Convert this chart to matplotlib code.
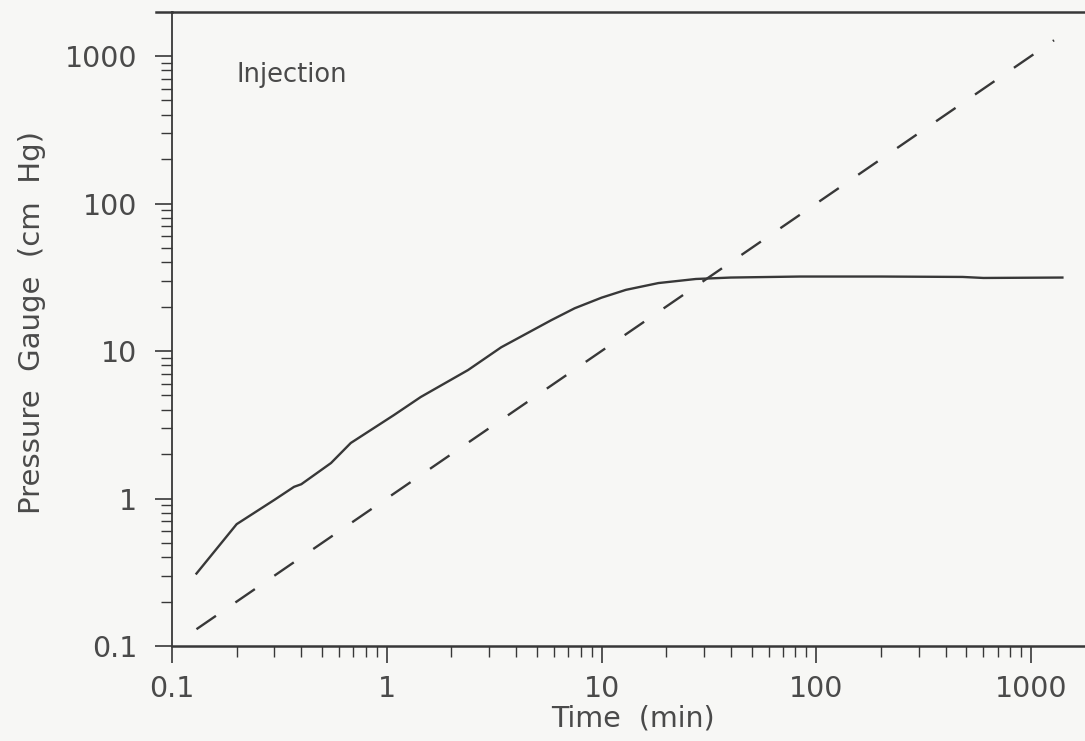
import matplotlib
matplotlib.use("Agg")
from matplotlib import pyplot as plt
from matplotlib.ticker import LogLocator, FixedLocator, FixedFormatter, NullFormatter

time_min = [0.13, 0.20, 0.30, 0.37, 0.40, 0.55, 0.68, 1.08, 1.44, 2.39, 3.41,
            5.84, 7.5, 10.0, 13.0, 18.4, 27.5, 40, 84, 200, 480, 600, 1400]
pressure = [0.31, 0.67, 0.98, 1.20, 1.25, 1.74, 2.38, 3.68, 4.88, 7.43, 10.6,
            16.2, 19.5, 23.0, 26.0, 28.9, 30.8, 31.5, 32.0, 32.0, 31.8, 31.3, 31.5]

# reference line (slope 1)
ref_time = [0.13, 1280]
ref_pressure = [0.13, 1280]

x_ticks = [0.1, 1, 10, 100, 1000]
x_labels = ["0.1", "1", "10", "100", "1000"]
y_ticks = [0.1, 1, 10, 100, 1000]
y_labels = ["0.1", "1", "10", "100", "1000"]

bg = "#f7f7f5"
ink = "#383838"
txt = "#4a4a4a"

fig = plt.figure(figsize=(10.85, 7.41), dpi=100, facecolor=bg)
ax = fig.add_axes([172 / 1085, 95 / 741, 913 / 1085, 634 / 741])
ax.set_facecolor(bg)

ax.plot(time_min, pressure, color=ink, lw=1.7)
ax.plot(ref_time, ref_pressure, color=ink, lw=1.7, dashes=(10, 10))

ax.set_xscale("log")
ax.set_yscale("log")
ax.set_xlim(0.1, 1784)
ax.set_ylim(0.1, 1990)

ax.xaxis.set_major_locator(FixedLocator(x_ticks))
ax.xaxis.set_major_formatter(FixedFormatter(x_labels))
ax.yaxis.set_major_locator(FixedLocator(y_ticks))
ax.yaxis.set_major_formatter(FixedFormatter(y_labels))
ax.xaxis.set_minor_locator(LogLocator(base=10, subs=range(2, 10)))
ax.yaxis.set_minor_locator(LogLocator(base=10, subs=range(2, 10)))
ax.xaxis.set_minor_formatter(NullFormatter())
ax.yaxis.set_minor_formatter(NullFormatter())

ax.tick_params(which="major", direction="out", length=12, width=1.2,
               color=ink, labelsize=20.5, labelcolor=txt)
ax.tick_params(which="minor", direction="out", length=8, width=1.0, color=ink)
ax.tick_params(axis="y", which="major", pad=13)
ax.tick_params(axis="x", which="major", pad=9)

ax.spines["right"].set_visible(False)
for side in ["left", "top", "bottom"]:
    ax.spines[side].set_color(ink)
ax.spines["left"].set_linewidth(1.3)
ax.spines["top"].set_linewidth(1.8)
ax.spines["bottom"].set_linewidth(1.8)

# top frame line sticks out a little to the left
ax.plot([-0.018, 0], [1, 1], transform=ax.transAxes, color=ink, lw=1.8,
        clip_on=False)

ax.set_xlabel("Time  (min)", fontsize=20.5, color=txt)
ax.set_ylabel("Pressure  Gauge  (cm  Hg)", fontsize=21, color=txt)
ax.xaxis.set_label_coords(0.505, -0.093)
ax.yaxis.set_label_coords(-0.138, 0.51)

ax.text(0.071, 0.9, "Injection", transform=ax.transAxes, fontsize=18.5,
        color=txt, va="center", ha="left")

fig.savefig("out.png", dpi=100, facecolor=bg)
